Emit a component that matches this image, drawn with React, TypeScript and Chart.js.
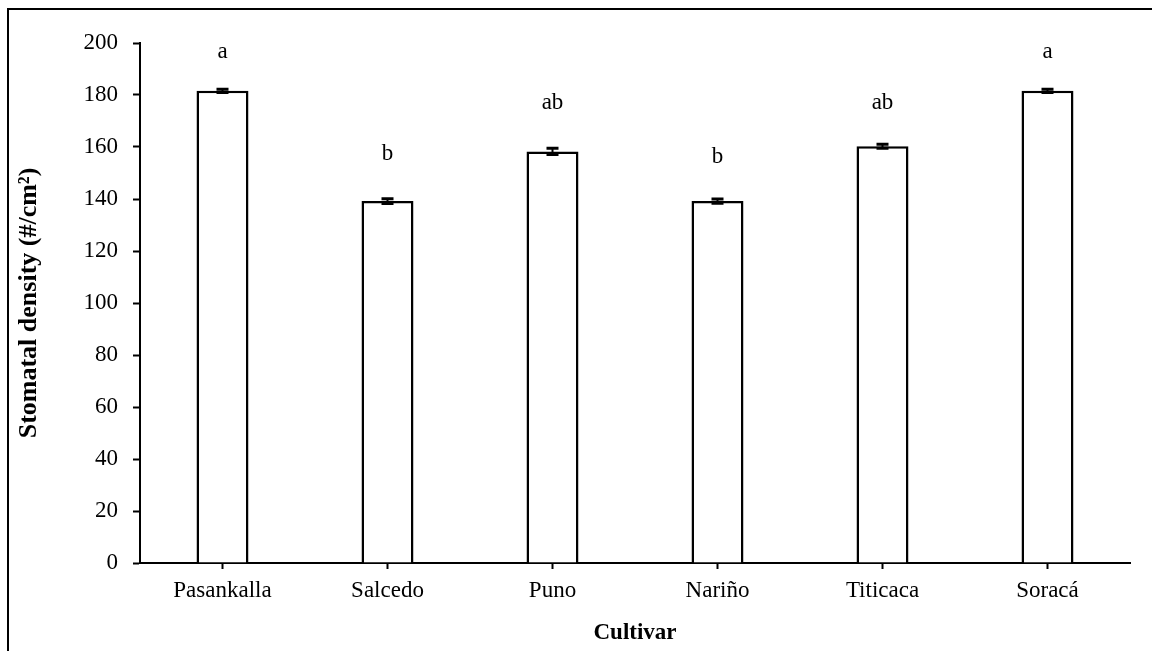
import React, { useEffect, useRef } from "react";
import { Chart, registerables } from "chart.js";

Chart.register(...registerables);

const categories = ["Pasankalla", "Salcedo", "Puno", "Nariño", "Titicaca", "Soracá"];
const densityValues = [181.6, 139.2, 158.3, 139.2, 160.3, 181.6];
const errorValues = [0.6, 0.9, 1.2, 0.8, 0.8, 0.6];
const groupLetters = ["a", "b", "ab", "b", "ab", "a"];
const letterPositions = [196.5, 157.5, 177, 156, 177, 196.5];

const FONT = "'Liberation Serif', 'Times New Roman', serif";

const extrasPlugin = {
  id: "extras",
  afterDatasetsDraw(chart: any) {
    const ctx = chart.ctx;
    const meta = chart.getDatasetMeta(0);
    const y = chart.scales.y;
    ctx.save();
    ctx.strokeStyle = "#000";
    ctx.lineWidth = 2;
    meta.data.forEach((bar: any, i: number) => {
      const x = bar.x;
      const yHi = y.getPixelForValue(densityValues[i] + errorValues[i]);
      const yLo = y.getPixelForValue(densityValues[i] - errorValues[i]);
      ctx.lineWidth = 2;
      ctx.beginPath();
      ctx.moveTo(x, yHi);
      ctx.lineTo(x, yLo);
      ctx.stroke();
      ctx.lineWidth = 3;
      ctx.beginPath();
      ctx.moveTo(x - 6, yHi);
      ctx.lineTo(x + 6, yHi);
      ctx.moveTo(x - 6, yLo);
      ctx.lineTo(x + 6, yLo);
      ctx.stroke();
      ctx.fillStyle = "#000";
      ctx.font = `23px ${FONT}`;
      ctx.textAlign = "center";
      ctx.textBaseline = "middle";
      ctx.fillText(groupLetters[i], x, y.getPixelForValue(letterPositions[i]));
    });
    ctx.restore();
  },
};

export default function App() {
  const ref = useRef<HTMLCanvasElement>(null);
  useEffect(() => {
    document.body.style.margin = "0";
    const chart = new Chart(ref.current!, {
      type: "bar",
      data: {
        labels: categories,
        datasets: [
          {
            data: densityValues,
            backgroundColor: "#fff",
            borderColor: "#000",
            borderWidth: 2.5,
            categoryPercentage: 1,
            barPercentage: 0.315,
          },
        ],
      },
      options: {
        animation: false,
        responsive: false,
        layout: { padding: { left: 4, right: 22, top: 43, bottom: 0 } },
        plugins: { legend: { display: false }, tooltip: { enabled: false } },
        scales: {
          x: {
            grid: { offset: false, drawOnChartArea: false, drawTicks: true, tickLength: 6, tickColor: "#000", tickWidth: 2 },
            border: { color: "#000", width: 2 },
            ticks: { color: "#000", font: { family: FONT, size: 23 }, padding: 8, maxRotation: 0 },
            title: { display: true, text: "Cultivar", color: "#000", font: { family: FONT, size: 23, weight: "bold" }, padding: { top: 4, bottom: 4 } },
            afterFit: (s: any) => { s.height = 88; },
          },
          y: {
            min: 0,
            max: 200,
            ticks: { stepSize: 20, color: "#000", font: { family: FONT, size: 23 }, padding: 15 },
            grid: { drawOnChartArea: false, drawTicks: true, tickLength: 7, tickColor: "#000", tickWidth: 2 },
            border: { color: "#000", width: 2 },
            title: { display: true, text: "Stomatal density (#/cm²)", color: "#000", font: { family: FONT, size: 26, weight: "bold" }, padding: { top: 10, bottom: 4 } },
            afterFit: (s: any) => { s.width = 136; },
          },
        },
      },
      plugins: [extrasPlugin],
    });
    return () => chart.destroy();
  }, []);
  return (
    <div style={{ position: "absolute", left: 0, top: 0, width: 1152, height: 651, overflow: "hidden", background: "#fff" }}>
      <div style={{ position: "absolute", left: 7, top: 8, width: 1300, height: 800, borderLeft: "2px solid #000", borderTop: "2px solid #000" }} />
      <canvas ref={ref} width={1152} height={651} style={{ position: "absolute", left: 0, top: 0 }} />
    </div>
  );
}
